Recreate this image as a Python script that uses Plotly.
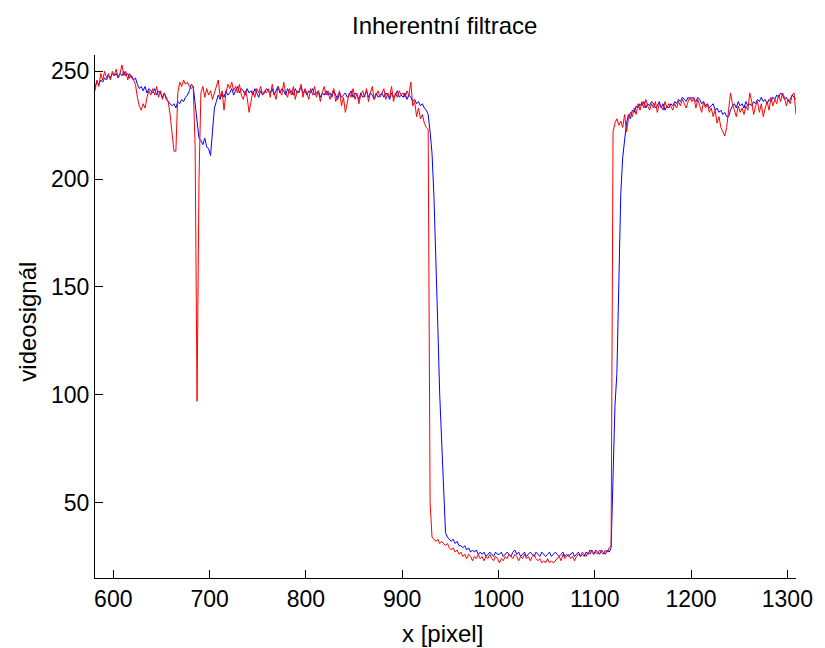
import plotly.graph_objects as go

# pixel index along the line (every 2nd pixel)
x_pix = list(range(581, 1310, 2))

# red trace: without filter
red_signal = [
    241, 246, 243, 249, 246, 250, 247, 249, 246, 250,   # 581
    248, 251, 247, 249, 253, 248, 250, 246, 249, 247,   # 601
    246, 244, 238, 234, 232, 235, 233, 238, 241, 239,   # 621
    242, 239, 243, 238, 241, 237, 240, 238, 236, 230,   # 641
    222, 213, 213, 240, 245, 243, 246, 244, 245, 243,   # 661
    242, 243, 215, 97, 200, 240, 243, 238, 242, 239,    # 681
    241, 237, 240, 243, 246, 238, 241, 232, 240, 244,   # 701
    242, 245, 241, 243, 240, 244, 239, 237, 241, 238,   # 721
    231, 236, 241, 238, 242, 240, 243, 239, 241, 240,   # 741
    242, 238, 244, 240, 237, 243, 241, 239, 245, 240,   # 761
    238, 242, 239, 243, 237, 241, 240, 244, 238, 242,   # 781
    240, 237, 242, 239, 243, 238, 241, 236, 240, 243,   # 801
    239, 241, 237, 240, 242, 236, 239, 241, 234, 238,   # 821
    231, 236, 240, 238, 242, 237, 240, 235, 239, 241,   # 841
    238, 242, 236, 240, 243, 237, 239, 241, 238, 240,   # 861
    242, 237, 240, 238, 243, 236, 240, 238, 241, 239,   # 881
    240, 238, 241, 239, 245, 234, 236, 229, 233, 228,   # 901
    230, 226, 224, 223, 50, 34, 33, 32, 33, 31,         # 921
    32, 31, 30, 31, 29, 28, 29, 27, 28, 26,             # 941
    27, 25, 26, 24, 26, 25, 23, 25, 24, 26,             # 961
    24, 25, 23, 25, 24, 26, 24, 23, 25, 24,             # 981
    22, 24, 23, 25, 24, 26, 25, 24, 26, 25,             # 1001
    23, 25, 24, 26, 24, 25, 23, 25, 26, 24,             # 1021
    23, 24, 22, 23, 22, 24, 22, 23, 22, 23,             # 1041
    24, 25, 23, 26, 24, 25, 26, 24, 25, 23,             # 1061
    25, 26, 25, 27, 26, 25, 27, 26, 28, 26,             # 1081
    27, 26, 28, 27, 26, 28, 27, 29, 30, 222,            # 1101
    226, 228, 225, 227, 224, 230, 222, 228, 231, 229,   # 1121
    233, 230, 235, 232, 236, 233, 237, 234, 232, 235,   # 1141
    233, 236, 231, 235, 234, 232, 236, 233, 235, 234,   # 1161
    232, 235, 233, 236, 234, 237, 235, 233, 236, 238,   # 1181
    236, 238, 233, 237, 234, 231, 236, 233, 235, 231,   # 1201
    233, 229, 232, 226, 229, 224, 222, 220, 224, 233,   # 1221
    240, 235, 232, 229, 234, 231, 233, 230, 234, 232,   # 1241
    240, 236, 230, 234, 236, 231, 235, 229, 233, 236,   # 1261
    232, 238, 234, 237, 235, 239, 236, 240, 238, 234,   # 1281
    237, 235, 239, 240, 230,                            # 1301
]

# blue trace: with inherent filtering
blue_signal = [
    243, 245, 244, 246, 245, 247, 246, 248, 247, 249,   # 581
    248, 249, 247, 249, 248, 250, 248, 249, 247, 248,   # 601
    246, 247, 244, 242, 243, 241, 243, 240, 242, 241,   # 621
    240, 242, 239, 241, 240, 238, 240, 237, 236, 235,   # 641
    234, 235, 233, 236, 235, 237, 236, 238, 239, 241,   # 661
    244, 243, 234, 226, 219, 218, 216, 219, 215, 214,   # 681
    211, 222, 233, 236, 239, 237, 240, 238, 241, 239,   # 701
    240, 242, 239, 241, 243, 240, 242, 241, 239, 242,   # 721
    240, 241, 239, 242, 240, 238, 241, 239, 240, 242,   # 741
    241, 240, 242, 239, 241, 243, 240, 242, 241, 239,   # 761
    242, 240, 241, 239, 242, 240, 241, 243, 240, 241,   # 781
    239, 241, 240, 242, 239, 240, 241, 238, 240, 239,   # 801
    241, 239, 240, 238, 241, 239, 237, 240, 238, 239,   # 821
    240, 238, 239, 241, 238, 240, 239, 237, 240, 238,   # 841
    239, 241, 238, 240, 239, 237, 240, 238, 239, 240,   # 861
    238, 240, 239, 237, 240, 238, 239, 241, 238, 239,   # 881
    238, 240, 237, 239, 238, 236, 237, 235, 236, 234,   # 901
    235, 233, 232, 230, 222, 212, 192, 165, 132, 100,   # 921
    76, 52, 36, 34, 33, 32, 33, 31, 32, 30,             # 941
    30, 29, 30, 28, 29, 27, 28, 27, 28, 26,             # 961
    27, 26, 27, 25, 26, 27, 26, 25, 27, 26,             # 981
    26, 27, 25, 26, 27, 26, 25, 27, 28, 26,             # 1001
    27, 25, 26, 27, 25, 26, 27, 26, 25, 27,             # 1021
    26, 25, 27, 26, 25, 26, 27, 25, 26, 27,             # 1041
    26, 25, 26, 27, 25, 26, 25, 26, 27, 25,             # 1061
    26, 27, 25, 26, 25, 27, 26, 28, 27, 26,             # 1081
    28, 27, 26, 28, 27, 26, 28, 27, 29, 62,             # 1101
    95, 110, 152, 193, 210, 219, 226, 230, 228, 232,    # 1121
    231, 234, 233, 235, 234, 236, 233, 235, 234, 236,   # 1141
    235, 233, 234, 236, 233, 235, 232, 234, 233, 235,   # 1161
    234, 236, 235, 237, 236, 238, 237, 236, 238, 237,   # 1181
    238, 237, 236, 238, 237, 235, 236, 234, 235, 233,   # 1201
    234, 235, 232, 233, 231, 232, 230, 231, 229, 229,   # 1221
    232, 234, 235, 233, 236, 234, 235, 233, 236, 234,   # 1241
    235, 234, 236, 235, 237, 236, 238, 236, 237, 235,   # 1261
    237, 236, 238, 237, 239, 238, 240, 239, 237, 238,   # 1281
    236, 237, 239, 238, 237,                            # 1301
]

x_ticks = [600, 700, 800, 900, 1000, 1100, 1200, 1300]
y_ticks = [50, 100, 150, 200, 250]

FONT = "Liberation Sans, Arial, sans-serif"

fig = go.Figure()
fig.add_trace(go.Scatter(x=x_pix, y=blue_signal, mode="lines",
                         line=dict(color="#0000FF", width=1), showlegend=False))
fig.add_trace(go.Scatter(x=x_pix, y=red_signal, mode="lines",
                         line=dict(color="#FF0000", width=1), showlegend=False))

axis_style = dict(showline=True, linecolor="black", linewidth=1, mirror=False,
                  ticks="inside", ticklen=8, tickcolor="black", showgrid=False,
                  zeroline=False, tickfont=dict(size=23, color="black", family=FONT))

fig.update_xaxes(range=[581, 1309], tickvals=x_ticks, **axis_style)
fig.update_yaxes(range=[15, 257.6], tickvals=y_ticks, **axis_style)

# the page body has an 8px margin, so the figure is drawn 8px in from the window edge
fig.update_layout(
    width=817, height=640,
    margin=dict(l=87, r=22, t=47, b=70),
    plot_bgcolor="white", paper_bgcolor="white",
    font=dict(family=FONT, color="black"),
    annotations=[
        dict(text="Inherentní filtrace", xref="paper", yref="paper",
             x=(448 - 95) / 708, y=(578 - 25) / 523, showarrow=False,
             xanchor="center", yanchor="middle", font=dict(size=24)),
        dict(text="x [pixel]", xref="paper", yref="paper",
             x=(446 - 95) / 708, y=(578 - 633) / 523, showarrow=False,
             xanchor="center", yanchor="middle", font=dict(size=24)),
        dict(text="videosignál", xref="paper", yref="paper",
             x=(26 - 95) / 708, y=(578 - 322) / 523, showarrow=False,
             textangle=-90, xanchor="center", yanchor="middle", font=dict(size=24)),
    ],
)

fig.write_html("out.html")
